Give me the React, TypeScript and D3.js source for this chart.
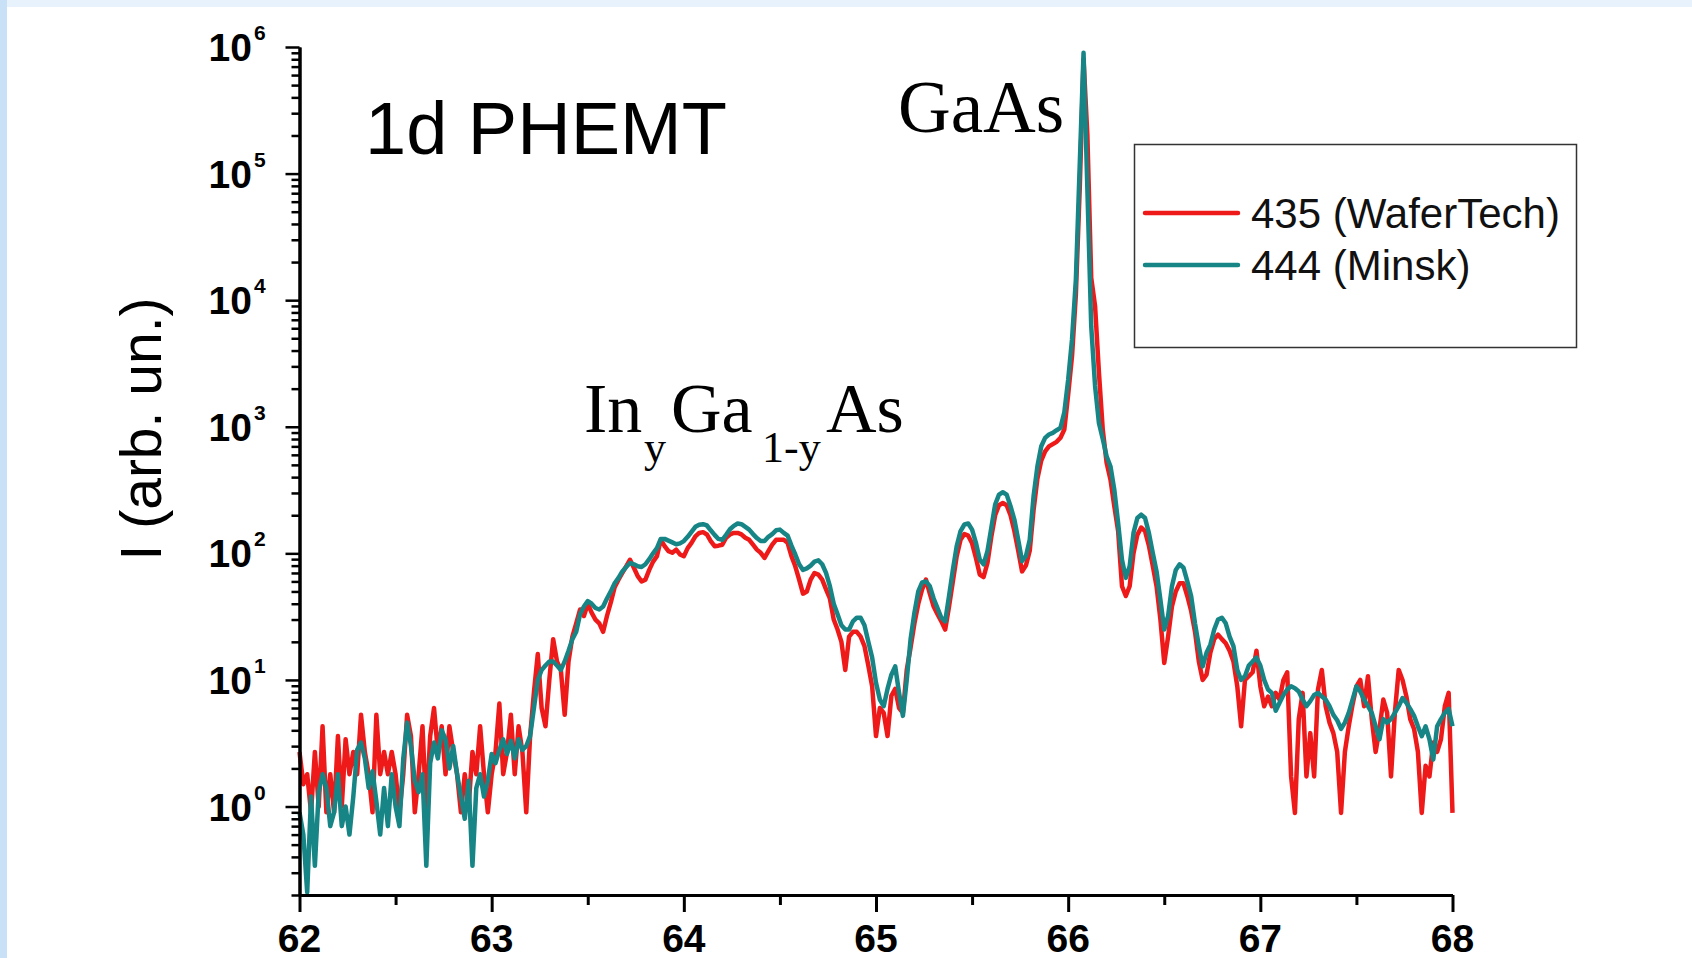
import React, { useRef, useEffect } from "react";
import * as d3 from "d3";

// x-axis (2 theta, degrees) and y-axis (log decades) ticks
const xTickValues = [62, 63, 64, 65, 66, 67, 68];
const yTickExponents = [0, 1, 2, 3, 4, 5, 6];

const seriesNames = ["435 (WaferTech)", "444 (Minsk)"];
const seriesColors = ["#ee1a1a", "#178585"];

// scan grid: 62 deg .. 68 deg, 0.02 deg step (301 points)
const scanStart = 62;
const scanStep = 0.02;

// sample 435 (WaferTech), intensity
const wafertech = [
  2.7, 1.5, 1.8, 0.9, 2.7, 1.0, 4.3, 0.9, 1.8, 0.9,
  3.6, 1.0, 3.4, 1.8, 2.7, 1.8, 5.3, 2.7, 1.8, 0.9,
  5.3, 1.8, 2.7, 1.8, 2.7, 1.8, 0.9, 1.8, 5.3, 3.6,
  0.9, 1.8, 4.3, 0.9, 3.6, 6.0, 2.7, 4.3, 1.8, 4.3,
  2.7, 1.8, 0.9, 1.8, 1.0, 2.7, 1.8, 4.3, 1.8, 0.9,
  1.8, 2.7, 6.5, 1.8, 2.7, 5.3, 1.8, 4.3, 2.7, 0.9,
  3.6, 8.0, 16, 6.0, 4.3, 10, 21, 14, 12, 5.3,
  14, 22, 28, 36, 32, 40, 34, 30, 28, 24,
  32, 41, 54, 62, 70, 79, 89, 77, 66, 60,
  62, 74, 86, 95, 128, 114, 104, 101, 107, 98,
  95, 110, 121, 136, 145, 147, 141, 125, 114, 115,
  117, 133, 141, 145, 145, 141, 133, 128, 117, 107,
  101, 92, 104, 117, 128, 128, 128, 121, 95, 79,
  62, 48, 50, 62, 70, 68, 62, 52, 44, 30,
  25, 20, 12, 22, 24, 24, 22, 18.5, 13, 8.9,
  3.6, 6.0, 5.5, 3.6, 7.5, 8.5, 6.0, 5.5, 12, 18,
  28, 40, 52, 62, 48, 38, 33, 29, 25, 38,
  60, 95, 128, 142, 138, 120, 92, 68, 65, 84,
  135, 200, 240, 250, 240, 200, 150, 105, 72, 80,
  105, 220, 390, 540, 640, 700, 730, 760, 820, 950,
  1800, 3600, 11000, 75000, 800000, 200000, 15000, 9000, 2700, 950,
  520, 383, 236, 150, 55, 46, 55, 100, 140, 160,
  150, 115, 80, 55, 30, 13.6, 22, 38, 50, 58,
  58, 46, 35, 24, 14, 10, 11, 16.4, 21, 22.8,
  21, 19.5, 17, 14, 8.9, 4.3, 10, 10.7, 11.5, 17,
  8.9, 6.2, 7.4, 6.2, 7.9, 7.0, 10, 11.5, 1.73, 0.89,
  4.9, 7.9, 1.73, 3.8, 1.73, 8.4, 12, 6.2, 4.6, 3.8,
  2.7, 0.89, 2.7, 4.3, 6.4, 8.9, 10, 6.2, 10.7, 4.9,
  2.7, 4.1, 7.0, 5.5, 1.73, 5.5, 12, 10, 7.4, 4.9,
  4.1, 2.7, 0.89, 2.1, 1.73, 3.2, 2.7, 3.4, 6.2, 7.9,
  0.89,
];

// sample 444 (Minsk)
const minsk = [
  0.9, 0.6, 0.21, 1.2, 0.34, 1.3, 1.8, 1.4, 0.7, 0.9,
  1.8, 0.7, 1.0, 0.6, 1.2, 2.8, 3.2, 2.4, 1.4, 1.9,
  1.1, 0.6, 1.4, 0.7, 1.8, 1.0, 0.7, 2.4, 4.6, 3.0,
  1.6, 1.3, 1.8, 0.34, 2.2, 3.2, 2.4, 4.0, 3.4, 2.0,
  3.0, 1.8, 1.2, 0.8, 1.6, 0.34, 1.4, 1.8, 1.2, 1.6,
  2.6, 2.2, 2.8, 3.4, 2.6, 3.3, 2.4, 3.4, 2.8, 3.0,
  3.6, 6.0, 10, 12, 13, 14, 14, 13, 12, 14,
  17, 21, 24, 33, 38, 42, 40, 37, 36, 38,
  44, 50, 58, 64, 72, 78, 84, 82, 79, 78,
  82, 90, 100, 110, 130, 130, 126, 122, 118, 120,
  125, 135, 148, 162, 168, 170, 166, 152, 140, 130,
  128, 140, 155, 165, 172, 170, 162, 154, 142, 132,
  125, 125, 135, 142, 152, 154, 145, 138, 115, 98,
  82, 74, 76, 80, 86, 88, 82, 70, 55, 40,
  33, 27, 25, 25, 29, 31, 31, 27, 20, 15,
  9.5, 7.0, 6.2, 8.5, 11, 12.8, 7.9, 5.2, 10, 21,
  34, 50, 59, 60, 55, 44, 37, 31, 29, 46,
  74, 114, 150, 169, 172, 154, 121, 89, 82, 104,
  159, 243, 291, 304, 291, 236, 185, 128, 87, 95,
  128, 283, 488, 702, 817, 868, 895, 939, 980, 1300,
  2350, 4900, 14500, 115000, 900000, 75000, 6200, 2100, 1070, 800,
  585, 488, 319, 174, 89, 64, 79, 145, 190, 202,
  190, 145, 101, 72, 43, 25, 32, 55, 74, 82,
  77, 60, 46, 28, 18.5, 12.8, 16.4, 19, 25, 30,
  31, 28, 22, 18.5, 12, 10, 10.7, 13, 14, 15,
  13, 10, 8.4, 7.9, 5.7, 6.6, 7.6, 8.4, 8.9, 8.6,
  8.1, 7.0, 6.2, 6.8, 7.6, 7.9, 7.4, 7.0, 6.2, 5.3,
  4.8, 4.1, 4.6, 5.5, 7.0, 8.9, 8.1, 7.0, 6.2, 5.5,
  4.3, 3.4, 4.9, 4.6, 4.9, 5.5, 6.2, 7.2, 6.6, 5.9,
  5.2, 4.3, 3.6, 4.3, 3.4, 2.35, 4.3, 4.9, 5.5, 5.9,
  4.3,
];

const SANS = "'Liberation Sans', Arial, Helvetica, sans-serif";
const SERIF = "'Liberation Serif', 'Times New Roman', Times, serif";

export default function XrdChart() {
  const svgRef = useRef<SVGSVGElement | null>(null);

  useEffect(() => {
    const svg = d3.select(svgRef.current);
    svg.selectAll("*").remove();

    const width = 1692;
    const height = 958;

    // page frame (light blue strips at top and left)
    svg.append("rect").attr("width", width).attr("height", height).attr("fill", "#ffffff");
    svg.append("rect").attr("x", 0).attr("y", 0).attr("width", width).attr("height", 7).attr("fill", "#e7f2fc");
    svg.append("rect").attr("x", 0).attr("y", 0).attr("width", 7).attr("height", height).attr("fill", "#c9e1f6");

    const x = d3.scaleLinear().domain([62, 68]).range([299.5, 1452.5]);
    const y = d3.scaleLog().domain([0.2, 1e6]).range([895, 47]);

    const series = [wafertech, minsk].map((vals, k) => ({
      name: seriesNames[k],
      color: seriesColors[k],
      points: vals.map((v, i) => ({ t: scanStart + i * scanStep, v })),
    }));

    const line = d3
      .line<{ t: number; v: number }>()
      .x(d => x(d.t))
      .y(d => y(d.v))
      .curve(d3.curveLinear);

    const plot = svg.append("g");
    series.forEach(s => {
      plot
        .append("path")
        .datum(s.points)
        .attr("fill", "none")
        .attr("stroke", s.color)
        .attr("stroke-width", 4.5)
        .attr("stroke-linejoin", "round")
        .attr("d", line);
    });

    // x axis
    const xMinor = xTickValues.slice(1).map(v => v - 0.5);
    const gx = svg.append("g").attr("transform", `translate(0,${y(0.2)})`);
    gx.call(d3.axisBottom(x).tickValues(xTickValues).tickSize(17).tickSizeOuter(0).tickFormat(() => ""));
    gx.append("g").call(d3.axisBottom(x).tickValues(xMinor).tickSize(10).tickSizeOuter(0).tickFormat(() => ""));
    gx.selectAll("path").attr("stroke", "#000").attr("stroke-width", 3);
    gx.selectAll("line").attr("stroke", "#000").attr("stroke-width", 3);

    gx.selectAll(".xlab")
      .data(xTickValues)
      .enter()
      .append("text")
      .attr("x", d => x(d))
      .attr("y", 57)
      .attr("text-anchor", "middle")
      .attr("font-family", SANS)
      .attr("font-weight", "bold")
      .attr("font-size", 39)
      .attr("fill", "#000")
      .text(d => String(d));

    // y axis (log)
    const majors = yTickExponents.map(e => Math.pow(10, e));
    const minors = y.ticks().filter(v => {
      const l = Math.log10(v);
      return Math.abs(l - Math.round(l)) > 1e-6;
    });
    const gy = svg.append("g").attr("transform", `translate(${x(62)},0)`);
    gy.call(d3.axisLeft(y).tickValues(majors).tickSize(14).tickSizeOuter(0).tickFormat(() => ""));
    gy.append("g").call(d3.axisLeft(y).tickValues(minors).tickSize(8).tickSizeOuter(0).tickFormat(() => ""));
    gy.selectAll("path").attr("stroke", "#000").attr("stroke-width", 3);
    gy.selectAll("line").attr("stroke", "#000").attr("stroke-width", 2.5);

    yTickExponents.forEach(e => {
      const ty = y(Math.pow(10, e));
      svg
        .append("text")
        .attr("x", 252)
        .attr("y", ty + 14)
        .attr("text-anchor", "end")
        .attr("font-family", SANS)
        .attr("font-weight", "bold")
        .attr("font-size", 39)
        .text("10");
      svg
        .append("text")
        .attr("x", 254)
        .attr("y", ty - 7)
        .attr("font-family", SANS)
        .attr("font-weight", "bold")
        .attr("font-size", 21)
        .text(String(e));
    });

    // y axis title
    svg
      .append("text")
      .attr("transform", `translate(161,429) rotate(-90)`)
      .attr("text-anchor", "middle")
      .attr("font-family", SANS)
      .attr("font-size", 57)
      .text("I (arb. un.)");

    // annotations
    svg
      .append("text")
      .attr("x", 365)
      .attr("y", 154)
      .attr("font-family", SANS)
      .attr("font-size", 74)
      .text("1d PHEMT");

    svg
      .append("text")
      .attr("x", 898)
      .attr("y", 132)
      .attr("font-family", SERIF)
      .attr("font-size", 73)
      .text("GaAs");

    const inga = svg
      .append("text")
      .attr("font-family", SERIF)
      .attr("font-size", 70);
    inga.append("tspan").attr("x", 584).attr("y", 432).text("In");
    inga.append("tspan").attr("x", 644).attr("y", 462).attr("font-size", 44).text("y");
    inga.append("tspan").attr("x", 671).attr("y", 432).text("Ga");
    inga.append("tspan").attr("x", 762).attr("y", 462).attr("font-size", 44).text("1-y");
    inga.append("tspan").attr("x", 826).attr("y", 432).text("As");

    // legend
    const lg = svg.append("g");
    lg.append("rect")
      .attr("x", 1134.5)
      .attr("y", 144.5)
      .attr("width", 442)
      .attr("height", 203)
      .attr("fill", "#fff")
      .attr("stroke", "#333")
      .attr("stroke-width", 1.5);
    series.forEach((s, i) => {
      const ly = 213 + i * 52;
      lg.append("line")
        .attr("x1", 1145)
        .attr("x2", 1238)
        .attr("y1", ly)
        .attr("y2", ly)
        .attr("stroke", s.color)
        .attr("stroke-width", 4.5)
        .attr("stroke-linecap", "round");
      lg.append("text")
        .attr("x", 1251)
        .attr("y", ly + 15)
        .attr("font-family", SANS)
        .attr("font-size", 42)
        .attr("fill", "#111")
        .text(s.name);
    });
  }, []);

  return (
    <svg
      ref={svgRef}
      width={1692}
      height={958}
      style={{ position: "absolute", left: 0, top: 0, display: "block" }}
    />
  );
}
